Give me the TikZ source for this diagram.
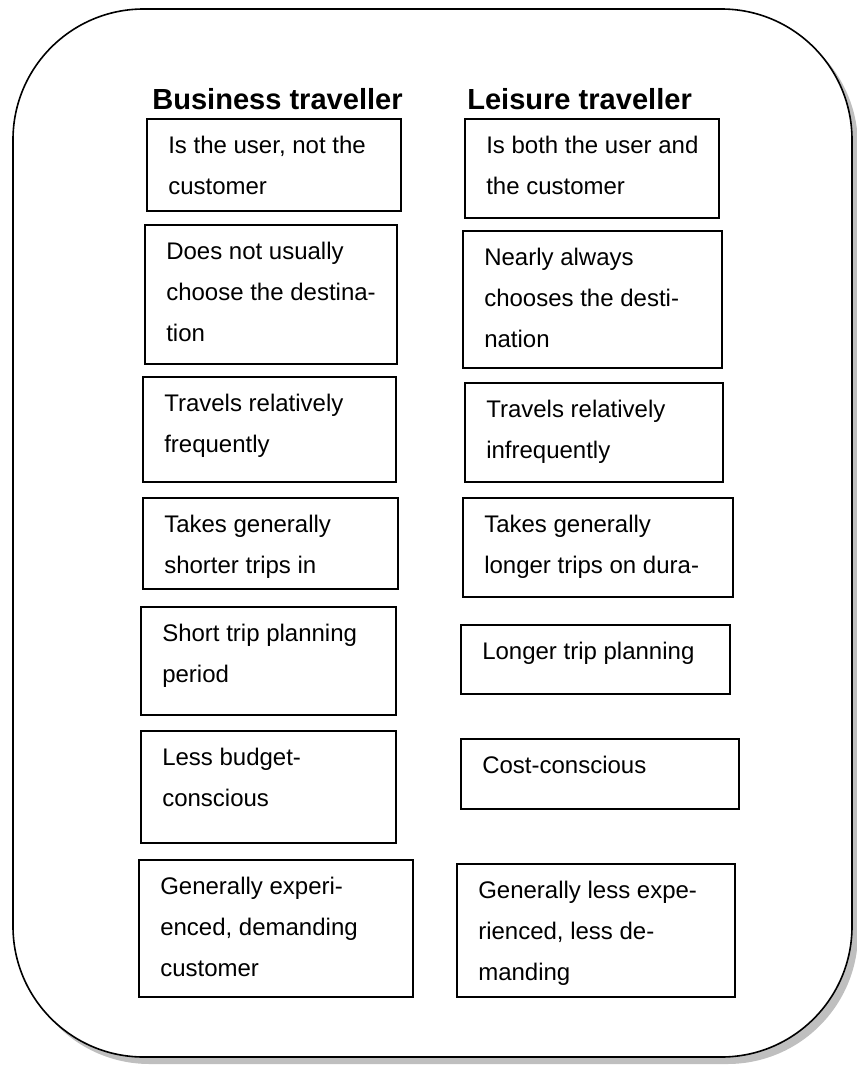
\documentclass[tikz,border=0pt]{standalone}
\usepackage{fontspec}
\setmainfont{Liberation Sans}
\begin{document}
\begin{tikzpicture}[x=0.75pt,y=-0.75pt,
  boxline/.style={draw=black,line width=1.1pt},
  boxtext/.style={font=\fontsize{18pt}{30.75pt}\selectfont,align=left,inner sep=0pt,anchor=north west},
  headtext/.style={font=\fontsize{21.8pt}{26pt}\selectfont\bfseries,inner sep=0pt,anchor=base west},
  frame/.style={draw=black,line width=1.2pt,fill=white,rounded corners=98pt},
  shadow/.style={fill=black!25,rounded corners=98pt}]
\useasboundingbox (0,0) rectangle (857,1065);
% frame with shadow
\fill[shadow] (19,15) rectangle (858,1064);
\draw[frame] (13,9) rectangle (852,1057);
% headers
\node[headtext] (hb) at (152,109) {Business traveller};
\node[headtext] (hl) at (467,109) {Leisure traveller};
% boxes: name, x1, y1, x2, y2, text  (first baseline = top + 34px; strut height = 28.7px)
\newcommand\tbox[6]{%
  \draw[boxline] (#2,#3) rectangle (#4,#5);
  \node[boxtext] (#1) at (#2+21,#3+5.3) {\strut #6};}
\tbox{b1}{147}{119}{401}{211}{Is the user, not the\\customer}
\tbox{l1}{465}{119}{719}{218}{Is both the user and\\the customer}
\tbox{b2}{145}{225}{397}{364}{Does not usually\\choose the destina-\\tion}
\tbox{l2}{463}{231}{722}{368}{Nearly always\\chooses the desti-\\nation}
\tbox{b3}{143}{377}{396}{482}{Travels relatively\\frequently}
\tbox{l3}{465}{383}{723}{482}{Travels relatively\\infrequently}
\tbox{b4}{143}{498}{398}{589}{Takes generally\\shorter trips in}
\tbox{l4}{463}{498}{733}{597}{Takes generally\\longer trips on dura-}
\tbox{b5}{141}{607}{396}{715}{Short trip planning\\period}
\tbox{l5}{461}{625}{730}{694}{Longer trip planning}
\tbox{b6}{141}{731}{396}{843}{Less budget-\\conscious}
\tbox{l6}{461}{739}{739}{809}{Cost-conscious}
\tbox{b7}{139}{860}{413}{997}{Generally experi-\\enced, demanding\\customer}
\tbox{l7}{457}{864}{735}{997}{Generally less expe-\\rienced, less de-\\manding}
\end{tikzpicture}
\end{document}
